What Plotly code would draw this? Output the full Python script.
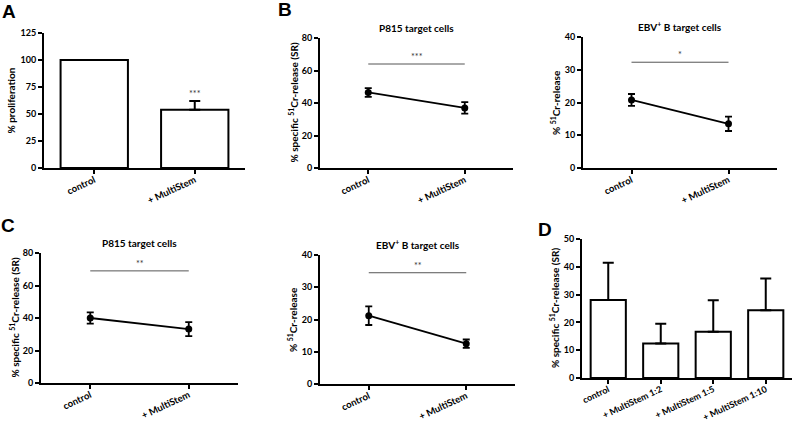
import plotly.graph_objects as go

# ---------------- data ----------------
A_categories = ["control", "+ MultiStem"]
A_values = [100, 54]
A_err = [0, 8]
A_sig = ["", "***"]

BC_categories = ["control", "+ MultiStem"]

B_p815_mean = [46.5, 37.0]
B_p815_err = [2.7, 3.5]
B_p815_sig_y = 64
B_p815_sig = "***"

B_ebv_mean = [20.8, 13.5]
B_ebv_err = [1.8, 2.2]
B_ebv_sig_y = 32.3
B_ebv_sig = "*"

C_p815_mean = [40.0, 33.2]
C_p815_err = [3.5, 4.3]
C_p815_sig_y = 69
C_p815_sig = "**"

C_ebv_mean = [21.2, 12.5]
C_ebv_err = [2.9, 1.3]
C_ebv_sig_y = 34.5
C_ebv_sig = "**"

D_categories = ["control", "+ MultiStem 1:2", "+ MultiStem 1:5", "+ MultiStem 1:10"]
D_values = [28.1, 12.4, 16.6, 24.4]
D_err = [13.4, 7.1, 11.4, 11.4]

A_yticks = [0, 25, 50, 75, 100, 125]
P815_yticks = [0, 20, 40, 60, 80]
EBV_yticks = [0, 10, 20, 30, 40]
D_yticks = [0, 10, 20, 30, 40, 50]

# ---------------- layout helpers ----------------
W, H = 793, 423
FONT = "Lato"

def px_x(a, b):
    return [a / W, b / W]

def px_y(top, bottom):
    return [1 - bottom / H, 1 - top / H]

fig = go.Figure()

panels = [
    ("1", (44, 245), (33, 168), [0, 125], A_yticks, [-0.5, 1.5], 9.5),
    ("2", (320, 513), (38, 168), [0, 80], P815_yticks, [-0.5, 1.5], 9.5),
    ("3", (583, 777), (37, 168), [0, 40], EBV_yticks, [-0.5, 1.5], 9.5),
    ("4", (41, 238), (253, 383), [0, 80], P815_yticks, [-0.5, 1.5], 9.5),
    ("5", (320, 515), (255, 384), [0, 40], EBV_yticks, [-0.5, 1.5], 9.5),
    ("6", (582, 792), (239, 378), [0, 50], D_yticks, [-0.5, 3.5], 9),
]

ytickfont = dict(family=FONT, size=9, color="black", weight="bold")

for name, (xa, xb), (yt, yb), yr, yt_vals, xr, xfs in panels:
    xk = "xaxis" if name == "1" else f"xaxis{name}"
    yk = "yaxis" if name == "1" else f"yaxis{name}"
    xref = "x" if name == "1" else f"x{name}"
    yref = "y" if name == "1" else f"y{name}"
    fig.layout[xk] = dict(
        domain=px_x(xa, xb), anchor=yref, type="category", range=xr,
        showline=True, linecolor="black", linewidth=2,
        ticks="outside", ticklen=4, tickwidth=2, tickcolor="black",
        tickangle=-25, tickfont=dict(family=FONT, size=xfs, color="black", weight="bold"),
        showgrid=False, zeroline=False,
        automargin=False, fixedrange=True, ticklabelstandoff=-3,
    )
    fig.layout[yk] = dict(
        domain=px_y(yt, yb), anchor=xref, range=yr,
        tickvals=yt_vals, showline=True, linecolor="black", linewidth=2,
        ticks="outside", ticklen=4, tickwidth=2, tickcolor="black",
        tickfont=ytickfont, showgrid=False, zeroline=False,
        automargin=False, fixedrange=True,
    )

# ---------------- bar panels ----------------
bar_style = dict(marker=dict(color="white", line=dict(color="black", width=2)),
                 width=0.67, showlegend=False)

fig.add_trace(go.Bar(x=A_categories, y=A_values,
                     error_y=dict(type="data", array=A_err, arrayminus=[0] * len(A_err),
                                  color="black", thickness=2, width=5.5),
                     xaxis="x", yaxis="y", **bar_style))

fig.add_trace(go.Bar(x=D_categories, y=D_values,
                     error_y=dict(type="data", array=D_err, arrayminus=[0] * len(D_err),
                                  color="black", thickness=2, width=5.5),
                     xaxis="x6", yaxis="y6", **bar_style))

for cat, v, e, s in zip(A_categories, A_values, A_err, A_sig):
    if s:
        fig.add_annotation(x=cat, y=v + e, xref="x", yref="y", text=s,
                           showarrow=False, yanchor="bottom", yshift=0,
                           font=dict(family=FONT, size=9, color="#333"))

# ---------------- line panels ----------------
line_sets = [
    ("2", B_p815_mean, B_p815_err, B_p815_sig_y, B_p815_sig),
    ("3", B_ebv_mean, B_ebv_err, B_ebv_sig_y, B_ebv_sig),
    ("4", C_p815_mean, C_p815_err, C_p815_sig_y, C_p815_sig),
    ("5", C_ebv_mean, C_ebv_err, C_ebv_sig_y, C_ebv_sig),
]

for name, mean, err, sig_y, sig in line_sets:
    xr, yr = f"x{name}", f"y{name}"
    fig.add_trace(go.Scatter(
        x=BC_categories, y=mean, mode="lines+markers",
        line=dict(color="black", width=1.8),
        marker=dict(color="black", size=7),
        error_y=dict(type="data", array=err, color="black", thickness=1.8, width=3.5),
        xaxis=xr, yaxis=yr, showlegend=False, cliponaxis=False))
    fig.add_trace(go.Scatter(
        x=BC_categories, y=[sig_y] * len(BC_categories), mode="lines",
        line=dict(color="#555555", width=1), xaxis=xr, yaxis=yr,
        showlegend=False, hoverinfo="skip"))
    fig.add_annotation(x=0.5, y=sig_y, xref=f"{xr} domain", yref=yr,
                       text=sig, showarrow=False, yanchor="bottom", yshift=0,
                       font=dict(family=FONT, size=9, color="#333"))

# ---------------- axis titles ----------------
ytitles = [
    ("", "% proliferation", 26),
    ("2", "% specific <sup>51</sup>Cr-release (SR)", 19),
    ("3", "% <sup>51</sup>Cr-release", 19),
    ("4", "% specific <sup>51</sup>Cr-release (SR)", 19),
    ("5", "% <sup>51</sup>Cr-release", 19),
    ("6", "% specific <sup>51</sup>Cr-release (SR)", 19),
]
for name, txt, shift in ytitles:
    fig.add_annotation(x=0, y=0.5, xref=f"x{name} domain", yref=f"y{name} domain",
                       text=txt, textangle=-90, showarrow=False,
                       xanchor="right", xshift=-shift,
                       font=dict(family=FONT, size=10, color="black", weight="bold"))

# ---------------- panel titles ----------------
ptitles = [
    ("2", "P815 target cells"),
    ("3", "EBV<sup>+</sup> B target cells"),
    ("4", "P815 target cells"),
    ("5", "EBV<sup>+</sup> B target cells"),
]
for name, txt in ptitles:
    fig.add_annotation(x=0.5, y=1, xref=f"x{name} domain", yref=f"y{name} domain",
                       text=txt, showarrow=False, yanchor="bottom", yshift=2,
                       font=dict(family=FONT, size=10, color="black", weight="bold"))

# ---------------- panel letters ----------------
letters = [("A", 9, 11), ("B", 285, 9), ("C", 8, 225), ("D", 545, 229)]
for t, lx, ly in letters:
    fig.add_annotation(x=lx / W, y=1 - ly / H, xref="paper", yref="paper",
                       xanchor="center", yanchor="middle",
                       text=f"<b>{t}</b>", showarrow=False,
                       font=dict(family="Liberation Sans", size=19, color="black"))

fig.update_layout(width=W, height=H, margin=dict(l=0, r=0, t=0, b=0),
                  plot_bgcolor="white", paper_bgcolor="white", bargap=0.33)

fig.write_html("out.html", config={"displayModeBar": False},
               post_script="document.body.style.margin='0';document.body.style.overflow='hidden';")
